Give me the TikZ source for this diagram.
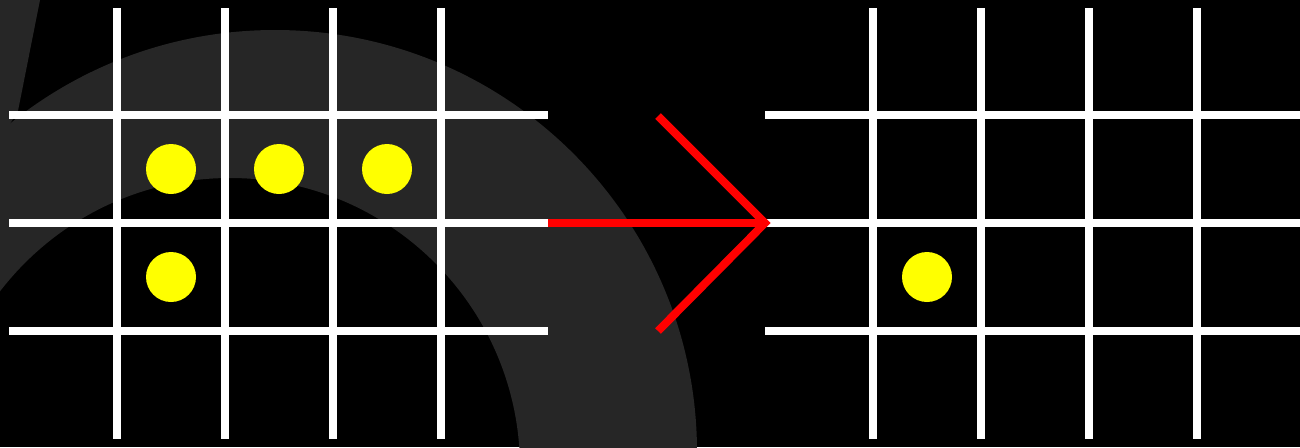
\documentclass[tikz,border=0pt]{standalone}
\usepackage{xcolor}
\usepackage{tikz}
\usetikzlibrary{positioning}
\definecolor{bandgray}{HTML}{262626}
\definecolor{dotyellow}{HTML}{FFFF00}

\begin{document}
\begin{tikzpicture}[x=1pt,y=-1pt,
  gridline/.style={white, line width=8pt},
  dot/.style={circle, fill=dotyellow, inner sep=0pt, minimum size=50pt},
  redline/.style={red, line width=8pt, miter limit=10}]
\fill[black] (0,0) rectangle (1300,447);
\useasboundingbox (0,0) rectangle (1300,447);
% background band
\begin{scope}
\clip (0,0) rectangle (1300,447);
\fill[bandgray, even odd rule] (275,452) circle (422pt) (230,468) circle (290pt);
\fill[bandgray] (0,0) -- (40,0) -- (18,111) -- (0,140) -- cycle;
\end{scope}
% left grid
\foreach \x in {117,225,333,441} \draw[gridline] (\x,8) -- (\x,439);
\foreach \y in {115,223,331} \draw[gridline] (9,\y) -- (548,\y);
% right grid
\foreach \x in {873,981,1089,1197} \draw[gridline] (\x,8) -- (\x,439);
\foreach \y in {115,223,331} \draw[gridline] (765,\y) -- (1300,\y);
% stones
\node[dot] (a1) at (171,169) {};
\node[dot] (a2) at (279,169) {};
\node[dot] (a3) at (387,169) {};
\node[dot] (a4) at (171,277) {};
\node[dot] (b1) at (927,277) {};
% arrow
\coordinate (tail) at (548,223);
\coordinate (tip) at (765,223);
\coordinate (wingup) at (658,116);
\coordinate (wingdown) at (658,331);
\draw[redline] (tail) -- (tip);
\draw[redline] (wingup) -- (tip) -- (wingdown);
\end{tikzpicture}
\end{document}
